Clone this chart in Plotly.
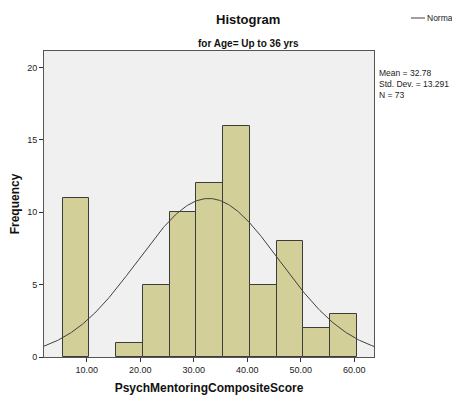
import numpy as np
import plotly.graph_objects as go

# Data
bin_left = [5.5, 15.5, 20.5, 25.5, 30.5, 35.5, 40.5, 45.5, 50.5, 55.5]
counts = [11, 1, 5, 10, 12, 16, 5, 8, 2, 3]
bin_width = 5.0
mean = 32.78
std_dev = 13.291
n_total = 73
x_ticks = [10, 20, 30, 40, 50, 60]
x_tick_labels = ["10.00", "20.00", "30.00", "40.00", "50.00", "60.00"]
y_ticks = [0, 5, 10, 15, 20]

x_range = [2.0, 63.7]
y_range = [0, 21.15]

centers = [b + bin_width / 2 for b in bin_left]

fig = go.Figure()
fig.add_trace(go.Bar(
    x=centers, y=counts, width=bin_width,
    marker=dict(color="#D3CF98", line=dict(color="#3C3C3C", width=1)),
    showlegend=False, hoverinfo="x+y",
))

xs = np.linspace(x_range[0], x_range[1], 300)
ys = n_total * bin_width / (std_dev * np.sqrt(2 * np.pi)) * np.exp(-0.5 * ((xs - mean) / std_dev) ** 2)
fig.add_trace(go.Scatter(
    x=xs, y=ys, mode="lines", line=dict(color="#404040", width=1),
    showlegend=False, name="Normal",
))

font_family = "Liberation Sans, Arial, sans-serif"

L, R, T, B = 44, 78, 51, 39
PW, PH = 452 - L - R, 396 - T - B


def px(x):
    return (x - L) / PW


def py(y):
    return (396 - B - y) / PH


fig.update_layout(
    width=452, height=396,
    margin=dict(l=L, r=R, t=T, b=B),
    paper_bgcolor="white",
    plot_bgcolor="#F0F0F0",
    font=dict(family=font_family, size=9, color="#222222"),
    bargap=0,
    xaxis=dict(
        range=x_range, tickvals=x_ticks, ticktext=x_tick_labels,
        showgrid=False, zeroline=False, automargin=False,
        showline=True, linecolor="#555555", linewidth=1, mirror=True,
        ticks="outside", ticklen=4, tickcolor="#333333",
        title=dict(text="<b>PsychMentoringCompositeScore</b>",
                   font=dict(size=12, color="#111111"), standoff=9),
    ),
    yaxis=dict(
        range=y_range, tickvals=y_ticks,
        showgrid=False, zeroline=False, automargin=False,
        showline=True, linecolor="#555555", linewidth=1, mirror=True,
        ticks="outside", ticklen=4, tickcolor="#333333",
        title=dict(text="<b>Frequency</b>",
                   font=dict(size=12, color="#111111"), standoff=4),
    ),
    annotations=[
        dict(text="<b>Histogram</b>", xref="paper", yref="paper",
             x=px(248), y=py(20), xanchor="center", yanchor="middle",
             showarrow=False, font=dict(size=13, color="#111111")),
        dict(text="<b>for Age= Up to 36 yrs</b>", xref="paper", yref="paper",
             x=px(248), y=py(43), xanchor="center", yanchor="middle",
             showarrow=False, font=dict(size=10, color="#111111")),
        dict(text="Mean = 32.78<br>Std. Dev. = 13.291<br>N = 73", xref="paper", yref="paper",
             x=px(377), y=py(66), xanchor="left", yanchor="top",
             align="left", showarrow=False, font=dict(size=8.5, color="#222222")),
        dict(text="Norma", xref="paper", yref="paper",
             x=px(425), y=py(18), xanchor="left", yanchor="middle",
             showarrow=False, font=dict(size=8.5, color="#222222")),
    ],
    shapes=[
        dict(type="line", xref="paper", yref="paper",
             x0=px(411), x1=px(425), y0=py(18), y1=py(18),
             line=dict(color="#404040", width=1)),
    ],
)

fig.write_html("out.html")
